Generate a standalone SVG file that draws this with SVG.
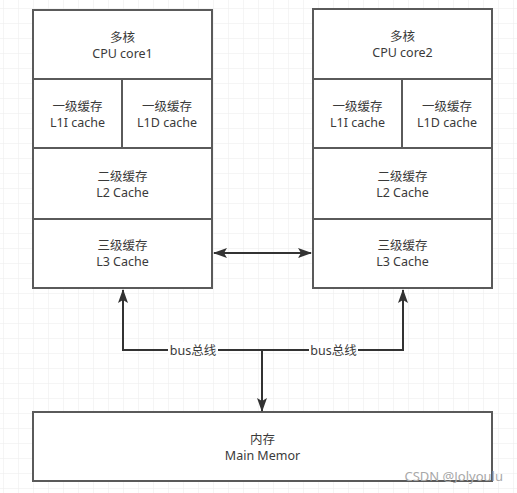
<svg xmlns="http://www.w3.org/2000/svg" width="517" height="493" viewBox="0 0 517 493">
<defs>
<pattern id="grid" x="3" y="8" width="15" height="15" patternUnits="userSpaceOnUse">
<path d="M0 0H15M0 0V15" fill="none" stroke="#ececec" stroke-width="1"/>
</pattern>
<marker id="ah" viewBox="0 0 14 10" refX="13" refY="5" markerWidth="14" markerHeight="10" markerUnits="userSpaceOnUse" orient="auto-start-reverse">
<path d="M0 0L14 5L0 10L3 5Z" fill="#333"/>
</marker>
</defs>
<style>
.box{fill:#fff;stroke:#5a5a5a;stroke-width:2}
.t{font-family:"Noto Sans","Noto Sans CJK SC",sans-serif;font-size:12.5px;fill:#3a3a3a;text-anchor:middle}
.c{fill:none;stroke:#333;stroke-width:2}
.lbl{fill:#fff}
</style>
<rect width="517" height="493" fill="#fff"/>
<rect width="517" height="493" fill="url(#grid)"/>

<g id="core1">
<rect class="box" x="33" y="10" width="179" height="69"/>
<text class="t" x="122.5" y="42">多核<tspan x="122.5" dy="16">CPU core1</tspan></text>
</g>
<g id="l1i-1">
<rect class="box" x="33" y="79" width="89" height="69"/>
<text class="t" x="77.5" y="111">一级缓存<tspan x="77.5" dy="16">L1I cache</tspan></text>
</g>
<g id="l1d-1">
<rect class="box" x="122" y="79" width="90" height="69"/>
<text class="t" x="167" y="111">一级缓存<tspan x="167" dy="16">L1D cache</tspan></text>
</g>
<g id="l2-1">
<rect class="box" x="33" y="148" width="179" height="71"/>
<text class="t" x="122.5" y="181">二级缓存<tspan x="122.5" dy="16">L2 Cache</tspan></text>
</g>
<g id="l3-1">
<rect class="box" x="33" y="219" width="179" height="69"/>
<text class="t" x="122.5" y="250">三级缓存<tspan x="122.5" dy="16">L3 Cache</tspan></text>
</g>

<g id="core2">
<rect class="box" x="313" y="9" width="179" height="70"/>
<text class="t" x="402.5" y="41">多核<tspan x="402.5" dy="16">CPU core2</tspan></text>
</g>
<g id="l1i-2">
<rect class="box" x="313" y="79" width="89" height="69"/>
<text class="t" x="357.5" y="111">一级缓存<tspan x="357.5" dy="16">L1I cache</tspan></text>
</g>
<g id="l1d-2">
<rect class="box" x="402" y="79" width="90" height="69"/>
<text class="t" x="447" y="111">一级缓存<tspan x="447" dy="16">L1D cache</tspan></text>
</g>
<g id="l2-2">
<rect class="box" x="313" y="148" width="179" height="71"/>
<text class="t" x="402.5" y="181">二级缓存<tspan x="402.5" dy="16">L2 Cache</tspan></text>
</g>
<g id="l3-2">
<rect class="box" x="313" y="219" width="179" height="69"/>
<text class="t" x="402.5" y="250">三级缓存<tspan x="402.5" dy="16">L3 Cache</tspan></text>
</g>

<g id="memory">
<rect class="box" x="33" y="412" width="459" height="69"/>
<text class="t" x="262.5" y="444">内存<tspan x="262.5" dy="16">Main Memor</tspan></text>
</g>

<g id="connectors">
<path class="c" d="M214 253H311" marker-start="url(#ah)" marker-end="url(#ah)"/>
<path class="c" d="M262 350H123V290" marker-end="url(#ah)"/>
<path class="c" d="M262 350H403V290" marker-end="url(#ah)"/>
<path class="c" d="M262 350V411" marker-end="url(#ah)"/>
<rect class="lbl" x="168" y="342" width="50" height="16"/>
<text class="t" x="193" y="355">bus总线</text>
<rect class="lbl" x="309" y="342" width="49" height="16"/>
<text class="t" x="333.5" y="355">bus总线</text>
</g>

<text x="503" y="481" font-family="'Noto Sans','Noto Sans CJK SC',sans-serif" font-size="13" fill="#a8a8a8" text-anchor="end">CSDN @Jolyoulu</text>
</svg>
